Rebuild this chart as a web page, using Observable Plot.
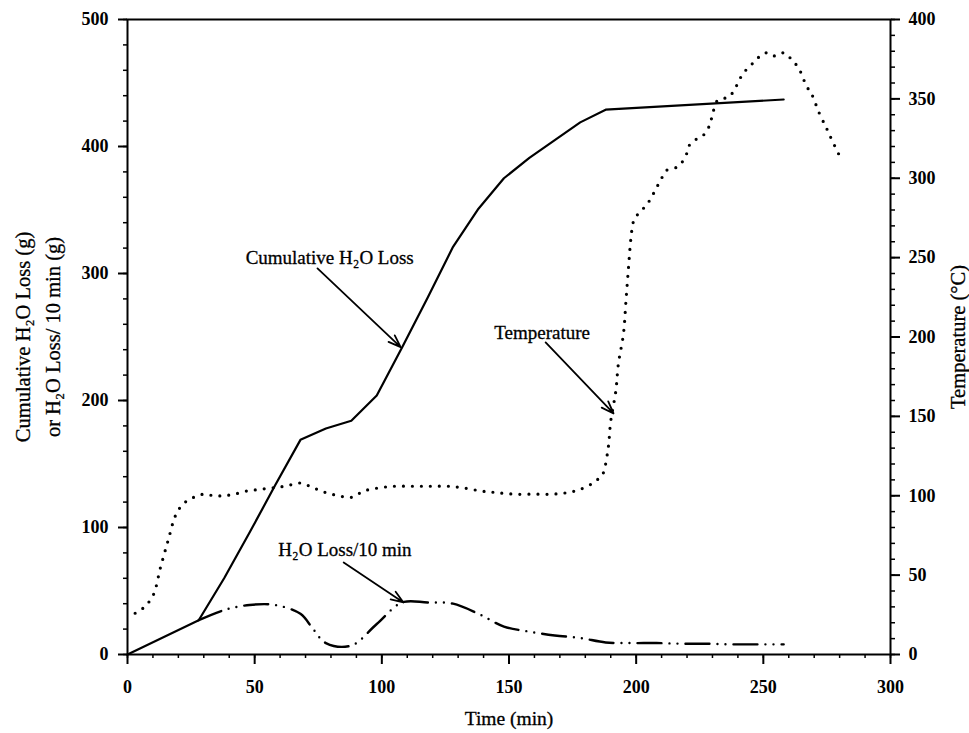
<!DOCTYPE html>
<html><head><meta charset="utf-8">
<script src="https://cdn.jsdelivr.net/npm/d3@7"></script>
<script src="https://cdn.jsdelivr.net/npm/@observablehq/plot@0.6"></script>
<style>body{margin:0;background:#fff} svg{display:block}</style>
</head><body><div id="chart"></div>
<script>
// Cumulative H2O loss (g) vs time (min)
const cumTime = [0, 28, 38, 48, 58, 68, 78, 88, 98, 108, 118, 128, 138, 148, 158, 168, 178, 188, 258];
const cumLoss = [0, 27, 60, 96, 133, 169, 178, 184, 204, 242, 281, 321, 351, 375, 391, 405, 419, 429, 437];

// H2O loss per 10 min (g)
const rateTime = [28, 38, 48, 58, 68, 73, 78, 88, 98, 108, 118, 128, 138, 148, 158, 168, 178, 188, 198, 208, 218, 228, 238, 248, 258];
const rateLoss = [27, 35, 39, 39, 32, 20, 9, 7, 24, 41, 41, 40, 32, 22, 18, 15, 13, 9.5, 9, 9, 8.5, 8.5, 8, 8, 8];

// Temperature (°C) vs time (min)
const tempTime = [3, 6, 10, 13, 16, 19, 22, 26, 30, 34, 38, 42, 47, 52, 57, 62, 68, 73, 78, 83, 88, 93, 99, 105, 110, 115, 120, 126, 132, 139, 145, 152, 160, 167, 173, 178, 183, 186, 187, 189, 190, 192, 193, 195, 196, 197, 198, 199, 201, 204, 206, 208, 210, 212, 216, 218, 220, 221, 224, 227, 229, 230, 232, 236, 238, 240, 242, 245, 248, 251, 254, 258, 261, 264, 267, 269, 272, 275, 277, 280];
const tempC = [26, 29, 37, 55, 72, 88, 95, 99, 101, 100, 100, 101, 103, 104, 105, 106, 108, 105, 102, 100, 99, 103, 105, 106, 106, 106, 106, 106, 105, 103, 102, 101, 101, 101, 102, 104, 108, 112, 114, 130, 147, 166, 183, 202, 223, 244, 263, 273, 278, 283, 288, 294, 300, 305, 307, 310, 316, 321, 325, 328, 334, 340, 349, 351, 354, 360, 366, 371, 376, 379, 377, 379, 375, 369, 358, 353, 341, 331, 324, 314];

// Axis ticks
const xMajor = [0, 50, 100, 150, 200, 250, 300];
const yMajor = [0, 100, 200, 300, 400, 500];
const tMajor = [0, 50, 100, 150, 200, 250, 300, 350, 400];

// Annotations
const noteText = ["Cumulative H₂O Loss", "Temperature", "H₂O Loss/10 min"];
const noteX = [79.5, 163, 85.5];
const noteY = [312, 253, 82];
const arrowX1 = [74.7, 164.4, 85];
const arrowY1 = [304, 245.7, 72.4];
const arrowX2 = [107.4, 191.1, 108.5];
const arrowY2 = [242, 189.8, 41];

const TEMP_SCALE = 500 / 400; // right axis 0–400 °C spans the same height as left 0–500 g

const cum = cumTime.map((t, i) => ({t, v: cumLoss[i]}));
const rate = rateTime.map((t, i) => ({t, v: rateLoss[i]}));
const temp = tempTime.map((t, i) => ({t, v: tempC[i] * TEMP_SCALE}));
const notes = noteText.map((s, i) => ({s, x: noteX[i], y: noteY[i]}));
const arrows = arrowX1.map((x1, i) => ({x1, y1: arrowY1[i], x2: arrowX2[i], y2: arrowY2[i]}));

const font = "'Liberation Serif', 'Times New Roman', Times, serif";

const chart = Plot.plot({
  width: 969, height: 733,
  marginLeft: 127, marginRight: 79, marginTop: 19, marginBottom: 79,
  style: {fontFamily: font, fontSize: "18px", color: "#000", background: "#fff"},
  x: {domain: [0, 300]},
  y: {domain: [0, 500]},
  marks: [
    Plot.frame({stroke: "#000", strokeWidth: 2}),
    // x axis
    Plot.axisX({ticks: xMajor, tickSize: 10, tickPadding: 16, tickFormat: d => d, label: null, fontSize: 18, fontWeight: "bold", strokeWidth: 2}),
    Plot.axisX({ticks: d3.range(0, 301, 10), tickSize: 4, tickFormat: () => "", label: null, strokeWidth: 1.5}),
    // left axis
    Plot.axisY({ticks: yMajor, tickSize: 9, tickPadding: 10, tickFormat: d => d, label: null, fontSize: 18, fontWeight: "bold", strokeWidth: 2}),
    Plot.axisY({ticks: d3.range(0, 501, 20), tickSize: 4, tickFormat: () => "", label: null, strokeWidth: 1.5}),
    // right axis (temperature)
    Plot.axisY({anchor: "right", ticks: tMajor.map(d => d * TEMP_SCALE), tickSize: 9, tickPadding: 9, tickFormat: d => Math.round(d / TEMP_SCALE), label: null, fontSize: 18, fontWeight: "bold", strokeWidth: 2}),
    Plot.axisY({anchor: "right", ticks: d3.range(0, 401, 10).map(d => d * TEMP_SCALE), tickSize: 4, tickFormat: () => "", label: null, strokeWidth: 1.5}),
    // series
    Plot.line(temp, {x: "t", y: "v", stroke: "#000", strokeWidth: 3.2, strokeDasharray: "0,9", strokeLinecap: "round", curve: "catmull-rom"}),
    Plot.line(rate, {x: "t", y: "v", stroke: "#000", strokeWidth: 2.4, strokeDasharray: "24,8,0,8,0,8", strokeLinecap: "round", curve: "catmull-rom"}),
    Plot.line(cum, {x: "t", y: "v", stroke: "#000", strokeWidth: 2.2}),
    // annotations
    Plot.arrow(arrows, {x1: "x1", y1: "y1", x2: "x2", y2: "y2", stroke: "#000", strokeWidth: 1.8, headLength: 11, headAngle: 40, bend: 0}),
    Plot.text(notes, {x: "x", y: "y", text: "s", fontSize: 19, fill: "#000", stroke: "#000", strokeWidth: 0.3}),
    // axis titles
    Plot.text(["Time (min)"], {frameAnchor: "bottom", dy: 70, fontSize: 19.5, fill: "#000", stroke: "#000", strokeWidth: 0.3}),
    Plot.text(["Cumulative H₂O Loss (g)\nor H₂O Loss/ 10 min (g)"], {frameAnchor: "left", textAnchor: "middle", dx: -92, rotate: -90, lineHeight: 1.45, fontSize: 20.5, fill: "#000", stroke: "#000", strokeWidth: 0.3}),
    Plot.text(["Temperature (°C)"], {frameAnchor: "right", textAnchor: "middle", dx: 68, rotate: -90, fontSize: 20.5, fill: "#000", stroke: "#000", strokeWidth: 0.3})
  ]
});
document.getElementById("chart").appendChild(chart);
</script>
</body></html>
